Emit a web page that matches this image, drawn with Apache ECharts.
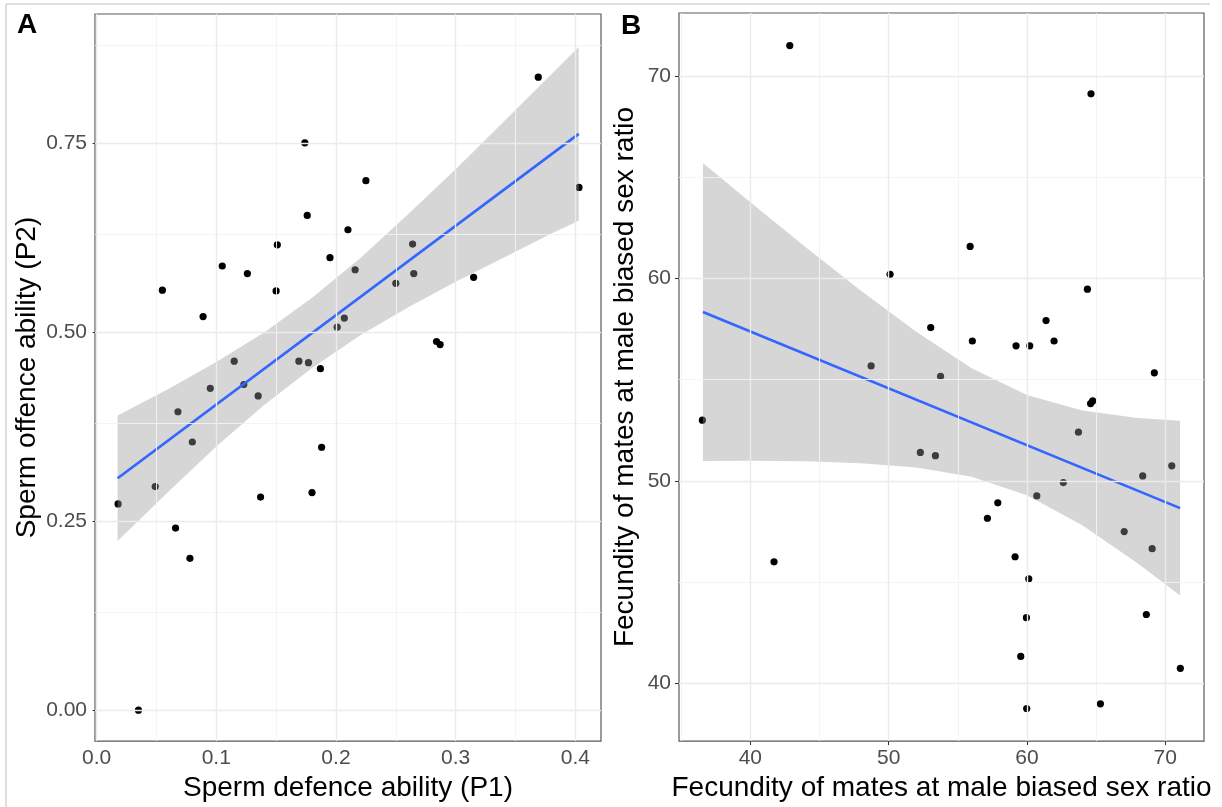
<!DOCTYPE html>
<html>
<head>
<meta charset="utf-8">
<script src="https://cdn.jsdelivr.net/npm/echarts@6/dist/echarts.min.js"></script>
<style>
  html, body { margin: 0; padding: 0; background: #fff; }
  #chart { width: 1222px; height: 807px; }
</style>
</head>
<body>
<div id="chart"></div>
<script>
// Panel A: sperm defence (P1) vs sperm offence (P2)
const defenceP1 = [0.174, 0.176, 0.210, 0.151, 0.105, 0.126, 0.195, 0.055, 0.150, 0.089,
                   0.207, 0.201, 0.115, 0.169, 0.177, 0.187, 0.095, 0.123, 0.369, 0.225,
                   0.403, 0.264, 0.216, 0.265, 0.250, 0.315, 0.284, 0.287, 0.135, 0.068,
                   0.080, 0.188, 0.049, 0.018, 0.137, 0.180, 0.066, 0.078, 0.035];
const offenceP2 = [0.751, 0.655, 0.636, 0.616, 0.588, 0.578, 0.599, 0.556, 0.555, 0.521,
                   0.519, 0.507, 0.462, 0.462, 0.460, 0.452, 0.426, 0.431, 0.838, 0.701,
                   0.692, 0.617, 0.583, 0.578, 0.565, 0.573, 0.488, 0.484, 0.416, 0.395,
                   0.355, 0.348, 0.296, 0.273, 0.282, 0.288, 0.241, 0.201, 0.000];
// Fitted line and its 95% band (panel A)
const fitA_x = [0.0176, 0.4028];
const fitA_y = [0.307, 0.763];
const bandA_x  = [0.0176, 0.06, 0.10, 0.14, 0.18, 0.22, 0.26, 0.30, 0.34, 0.38, 0.4028];
const bandA_lo = [0.224, 0.289, 0.349, 0.404, 0.453, 0.496, 0.533, 0.567, 0.599, 0.631, 0.648];
const bandA_hi = [0.390, 0.425, 0.461, 0.500, 0.546, 0.598, 0.656, 0.716, 0.779, 0.842, 0.878];
const ticksA_x = [0, 0.1, 0.2, 0.3, 0.4];
const ticksA_y = [0, 0.25, 0.5, 0.75];
const minorA_x = [0.05, 0.15, 0.25, 0.35];
const minorA_y = [0.125, 0.375, 0.625, 0.875];

// Panel B: fecundity of mates at male biased sex ratio
const fecundX = [42.85, 50.10, 53.04, 48.73, 64.63, 55.89, 64.37, 61.38, 56.05, 61.96,
                 59.21, 60.20, 36.53, 52.29, 53.38, 41.71, 53.75, 69.21, 64.60, 64.75,
                 63.72, 70.47, 68.37, 62.63, 60.71, 57.89, 57.14, 67.03, 69.05, 59.14,
                 60.13, 68.63, 59.96, 59.55, 71.09, 59.98, 65.31];
const fecundY = [71.49, 60.20, 57.57, 55.68, 69.11, 61.58, 59.47, 57.92, 56.91, 56.91,
                 56.67, 56.67, 53.00, 51.41, 51.25, 46.01, 55.17, 55.34, 53.82, 53.95,
                 52.41, 50.75, 50.25, 49.92, 49.26, 48.92, 48.16, 47.50, 46.66, 46.26,
                 45.17, 43.41, 43.25, 41.34, 40.75, 38.77, 39.00];
const fitB_x = [36.57, 71.07];
const fitB_y = [58.34, 48.66];
const bandB_x  = [36.57, 40, 44, 48, 52, 56, 60, 64, 68, 71.07];
const bandB_lo = [50.99, 51.00, 50.97, 50.88, 50.67, 50.21, 49.29, 47.81, 45.94, 44.35];
const bandB_hi = [65.69, 63.76, 61.54, 59.39, 57.36, 55.57, 54.25, 53.48, 53.11, 52.97];
const ticksB = [40, 50, 60, 70];
const minorB = [35, 45, 55, 65];

const FONT = '"Liberation Sans", Arial, sans-serif';
const MAJOR = '#EBEBEB';
const MINOR = '#F3F3F3';

function zip(a, b) { return a.map((v, i) => [v, b[i]]); }

function gridLineSeries(idx, majX, minX, majY, minY) {
  const data = [];
  minX.forEach(v => data.push({ xAxis: v, lineStyle: { color: MINOR, width: 0.9, type: 'solid' } }));
  minY.forEach(v => data.push({ yAxis: v, lineStyle: { color: MINOR, width: 0.9, type: 'solid' } }));
  majX.forEach(v => data.push({ xAxis: v, lineStyle: { color: MAJOR, width: 1.4, type: 'solid' } }));
  majY.forEach(v => data.push({ yAxis: v, lineStyle: { color: MAJOR, width: 1.4, type: 'solid' } }));
  return {
    type: 'scatter', xAxisIndex: idx, yAxisIndex: idx, data: [], z: 1, silent: true,
    markLine: { symbol: ['none', 'none'], silent: true, animation: false,
                label: { show: false }, emphasis: { disabled: true }, data: data }
  };
}

function bandSeries(idx, xs, lo, hi) {
  return {
    type: 'custom', xAxisIndex: idx, yAxisIndex: idx, z: 3, silent: true,
    data: [[xs[0], lo[0]]],
    renderItem: function (params, api) {
      const pts = [];
      for (let i = 0; i < xs.length; i++) pts.push(api.coord([xs[i], hi[i]]));
      for (let i = xs.length - 1; i >= 0; i--) pts.push(api.coord([xs[i], lo[i]]));
      return { type: 'polygon', shape: { points: pts },
               style: { fill: 'rgba(153,153,153,0.4)', stroke: 'none' } };
    }
  };
}

function pointSeries(idx, xs, ys) {
  return {
    type: 'scatter', xAxisIndex: idx, yAxisIndex: idx, z: 2, symbol: 'circle',
    symbolSize: 7.2, itemStyle: { color: '#000', opacity: 1 }, data: zip(xs, ys)
  };
}

function fitSeries(idx, xs, ys) {
  return {
    type: 'line', xAxisIndex: idx, yAxisIndex: idx, z: 4, showSymbol: false, symbol: 'none',
    lineStyle: { color: '#3366FF', width: 2.7 }, data: zip(xs, ys), silent: true
  };
}

function valueAxis(idx, min, max, ticks, fmt, name, nameGap, isY) {
  return {
    type: 'value', gridIndex: idx, min: min, max: max,
    axisLine: { show: false },
    axisTick: { show: true, length: 4, customValues: ticks, lineStyle: { color: '#333', width: 1 } },
    axisLabel: { customValues: ticks, formatter: fmt, color: '#4D4D4D', fontSize: 21,
                 fontFamily: FONT, margin: isY ? 8 : 7 },
    splitLine: { show: false },
    name: name, nameLocation: 'middle', nameGap: nameGap,
    nameTextStyle: { fontSize: 28, color: '#000', fontFamily: FONT }
  };
}

const chart = echarts.init(document.getElementById('chart'), null, { renderer: 'canvas' });
chart.setOption({
  animation: false,
  backgroundColor: '#fff',
  grid: [
    { left: 95, top: 14, width: 506, height: 728, show: true, borderColor: '#5a5a5a', borderWidth: 1.2, backgroundColor: '#fff' },
    { left: 679, top: 13, width: 525, height: 730, show: true, borderColor: '#5a5a5a', borderWidth: 1.2, backgroundColor: '#fff' }
  ],
  xAxis: [
    valueAxis(0, -0.0013, 0.4214, ticksA_x, v => v.toFixed(1), 'Sperm defence ability (P1)', 29, false),
    valueAxis(1, 34.84, 72.8, ticksB, v => String(v), 'Fecundity of mates at male biased sex ratio', 29, false)
  ],
  yAxis: [
    valueAxis(0, -0.041, 0.9216, ticksA_y, v => v.toFixed(2), 'Sperm offence ability (P2)', 54, true),
    valueAxis(1, 37.16, 73.1, ticksB, v => String(v), 'Fecundity of mates at male biased sex ratio', 40, true)
  ],
  series: [
    gridLineSeries(0, ticksA_x, minorA_x, ticksA_y, minorA_y),
    pointSeries(0, defenceP1, offenceP2),
    bandSeries(0, bandA_x, bandA_lo, bandA_hi),
    fitSeries(0, fitA_x, fitA_y),
    gridLineSeries(1, ticksB, minorB, ticksB, minorB.filter(v => v > 37.16)),
    pointSeries(1, fecundX, fecundY),
    bandSeries(1, bandB_x, bandB_lo, bandB_hi),
    fitSeries(1, fitB_x, fitB_y)
  ],
  graphic: [
    { type: 'line', shape: { x1: 6, y1: 4, x2: 1210, y2: 4 }, style: { stroke: '#d4d4d4', lineWidth: 1.5 }, z: 100 },
    { type: 'line', shape: { x1: 6, y1: 4, x2: 6, y2: 807 }, style: { stroke: '#d4d4d4', lineWidth: 1.5 }, z: 100 },
    { type: 'rect', shape: { x: 1211, y: 0, width: 11, height: 807 }, style: { fill: '#fff' }, z: 100 },
    { type: 'text', left: 17, top: 11, z: 100,
      style: { text: 'A', font: 'bold 28px "Liberation Sans", Arial, sans-serif', fill: '#000' } },
    { type: 'text', left: 621, top: 12, z: 100,
      style: { text: 'B', font: 'bold 28px "Liberation Sans", Arial, sans-serif', fill: '#000' } }
  ]
});
</script>
</body>
</html>
